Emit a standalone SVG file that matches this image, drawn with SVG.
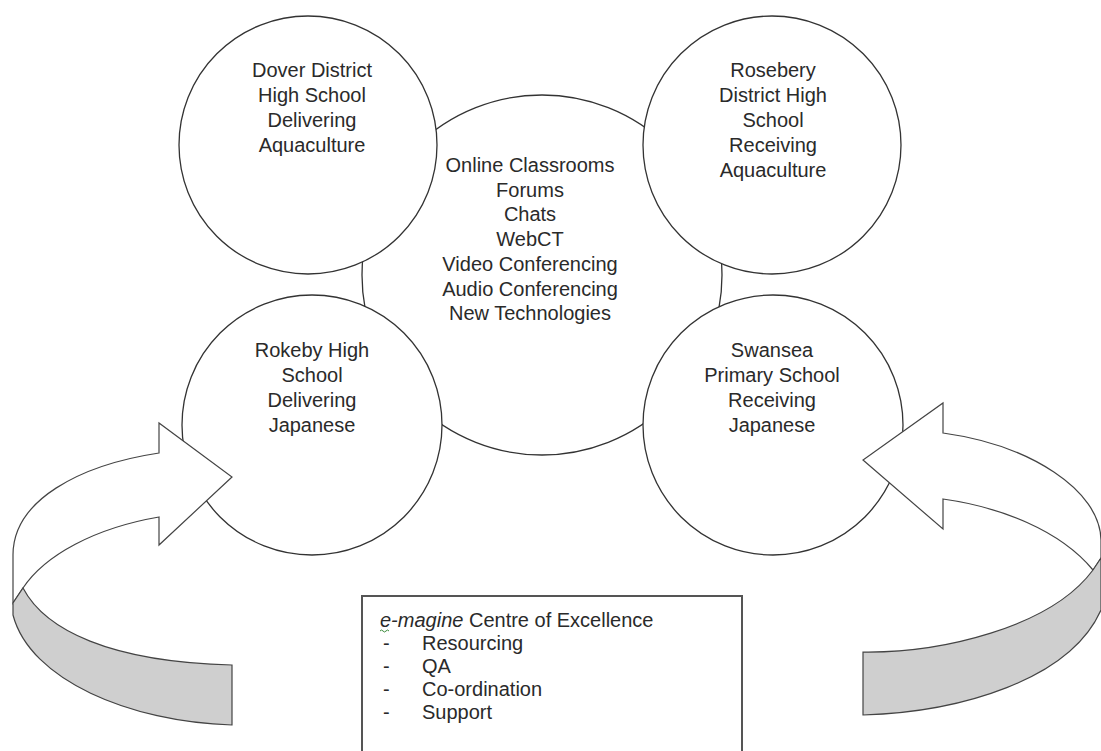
<svg xmlns="http://www.w3.org/2000/svg" width="1101" height="751" viewBox="0 0 1101 751">
<style>
.c{fill:#fff;stroke:#333;stroke-width:1.3}
.t{font-family:"Liberation Sans",Arial,sans-serif;font-size:20px;fill:#2a2a2a;text-anchor:middle}
.b{font-family:"Liberation Sans",Arial,sans-serif;font-size:20px;fill:#2a2a2a}
.w{fill:#fff;stroke:#444;stroke-width:1.2;stroke-linejoin:miter}
.g{fill:#cfcfcf;stroke:#444;stroke-width:1.2}
</style>
<rect width="1101" height="751" fill="#fff"/>
<g id="hub">
<circle class="c" cx="542" cy="275" r="180"/>
<text class="t"><tspan x="530" y="172">Online Classrooms</tspan><tspan x="530" y="196.7">Forums</tspan><tspan x="530" y="221.4">Chats</tspan><tspan x="530" y="246.1">WebCT</tspan><tspan x="530" y="270.8">Video Conferencing</tspan><tspan x="530" y="295.5">Audio Conferencing</tspan><tspan x="530" y="320.2">New Technologies</tspan></text>
</g>
<g id="dover">
<circle class="c" cx="308" cy="145" r="129"/>
<text class="t"><tspan x="312" y="77">Dover District</tspan><tspan x="312" y="102">High School</tspan><tspan x="312" y="127">Delivering</tspan><tspan x="312" y="152">Aquaculture</tspan></text>
</g>
<g id="rosebery">
<circle class="c" cx="772" cy="145" r="129"/>
<text class="t"><tspan x="773" y="77">Rosebery</tspan><tspan x="773" y="102">District High</tspan><tspan x="773" y="127">School</tspan><tspan x="773" y="152">Receiving</tspan><tspan x="773" y="177">Aquaculture</tspan></text>
</g>
<g id="rokeby">
<circle class="c" cx="312" cy="425" r="130"/>
<text class="t"><tspan x="312" y="357">Rokeby High</tspan><tspan x="312" y="382">School</tspan><tspan x="312" y="407">Delivering</tspan><tspan x="312" y="432">Japanese</tspan></text>
</g>
<g id="swansea">
<circle class="c" cx="773" cy="425" r="130"/>
<text class="t"><tspan x="772" y="357">Swansea</tspan><tspan x="772" y="382">Primary School</tspan><tspan x="772" y="407">Receiving</tspan><tspan x="772" y="432">Japanese</tspan></text>
</g>
<g id="connectors">
<g id="arrow-left">
<path class="w" d="M159,453 L159,423 L232,477 L159,545 L159,517 C95,528 45,555 23,588 L13,603 L13,555 C13,500 80,465 159,453 Z"/>
<path class="g" d="M23,588 C45,630 110,662 232,665 L232,725 C130,722 30,680 13,615 L13,603 Z"/>
</g>
<g id="arrow-right">
<path class="w" d="M943,433 L943,403 L863,460 L943,529 L943,499 C1000,507 1060,530 1093,570 L1101,558 L1101,540 C1100,490 1030,445 943,433 Z"/>
<path class="g" d="M1093,570 C1050,628 940,653 863,652 L863,715 C960,712 1070,680 1101,610 L1101,558 Z"/>
</g>
</g>
<g id="centre">
<rect x="362" y="596" width="380" height="170" fill="#fff" stroke="#555" stroke-width="2"/>
<text class="b" x="380" y="627"><tspan font-style="italic">e-magine</tspan> Centre of Excellence</text>
<path d="M380,631 q1.5,-2 3,0 t3,0 t3,0" fill="none" stroke="#3a8a3a" stroke-width="1"/>
<text class="b"><tspan x="383" y="650">-</tspan><tspan x="383" y="673">-</tspan><tspan x="383" y="696">-</tspan><tspan x="383" y="719">-</tspan></text>
<text class="b"><tspan x="422" y="650">Resourcing</tspan><tspan x="422" y="673">QA</tspan><tspan x="422" y="696">Co-ordination</tspan><tspan x="422" y="719">Support</tspan></text>
</g>
</svg>
